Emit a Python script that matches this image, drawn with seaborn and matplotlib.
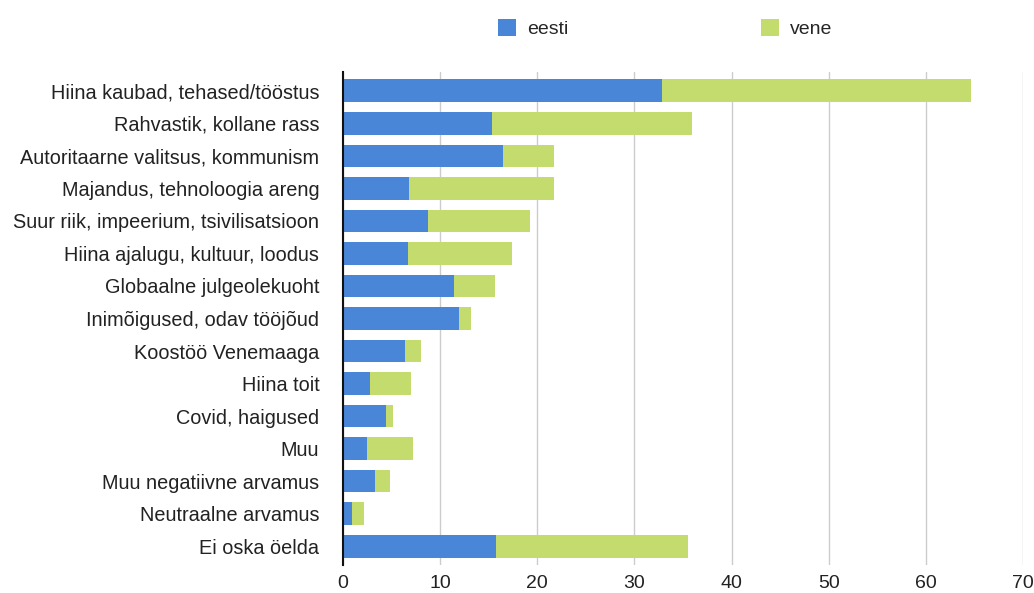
import matplotlib
matplotlib.use("Agg")
import matplotlib.pyplot as plt
from matplotlib.patches import Patch
import seaborn as sns
import pandas as pd

categories = [
    "Hiina kaubad, tehased/tööstus",
    "Rahvastik, kollane rass",
    "Autoritaarne valitsus, kommunism",
    "Majandus, tehnoloogia areng",
    "Suur riik, impeerium, tsivilisatsioon",
    "Hiina ajalugu, kultuur, loodus",
    "Globaalne julgeolekuoht",
    "Inimõigused, odav tööjõud",
    "Koostöö Venemaaga",
    "Hiina toit",
    "Covid, haigused",
    "Muu",
    "Muu negatiivne arvamus",
    "Neutraalne arvamus",
    "Ei oska öelda",
]
eesti = [32.8, 15.3, 16.5, 6.8, 8.8, 6.7, 11.4, 11.9, 6.4, 2.8, 4.4, 2.5, 3.3, 0.9, 15.8]
vene = [31.9, 20.6, 5.2, 14.9, 10.5, 10.7, 4.2, 1.3, 1.6, 4.2, 0.7, 4.7, 1.5, 1.3, 19.7]
x_ticks = [0, 10, 20, 30, 40, 50, 60, 70]

BLUE = "#4A86D8"
GREEN = "#C4DC6E"

df = pd.DataFrame({"cat": categories, "eesti": eesti, "vene": vene})
df["total"] = df["eesti"] + df["vene"]

sns.set_theme(style="white")
plt.rcParams["font.family"] = ["Liberation Sans", "DejaVu Sans"]

FS = 14.3

fig = plt.figure(figsize=(10.34, 5.93), dpi=100)
ax = fig.add_axes([0.3317, 0.0472, 0.6576, 0.8314])

sns.barplot(data=df, x="total", y="cat", color=GREEN, saturation=1, width=0.7,
            linewidth=0, ax=ax)
sns.barplot(data=df, x="eesti", y="cat", color=BLUE, saturation=1, width=0.7,
            linewidth=0, ax=ax)

ax.set_xlim(0, 70)
ax.set_ylim(len(categories) - 1 + 0.58, -0.58)
ax.set_xticks(x_ticks)
ax.set_xticklabels([str(t) for t in x_ticks], fontsize=14, color="#222222")
ax.tick_params(axis="y", labelsize=FS, labelcolor="#222222", length=0, pad=17)
ax.tick_params(axis="x", length=0, pad=7)
ax.set_xlabel("")
ax.set_ylabel("")
ax.xaxis.grid(True, color="#CCCCCC", linewidth=1)
ax.set_axisbelow(True)
for s in ["top", "right", "bottom"]:
    ax.spines[s].set_visible(False)
ax.spines["left"].set_color("#111111")
ax.spines["left"].set_linewidth(1.5)
ax.spines["left"].set_zorder(5)

handles = [Patch(facecolor=BLUE, edgecolor="none", label="eesti"),
           Patch(facecolor=GREEN, edgecolor="none", label="vene")]
fig.legend(handles=handles, loc="upper center", bbox_to_anchor=(0.643, 0.997), ncol=2,
           frameon=False, fontsize=14, handlelength=0.95, handleheight=0.95,
           handletextpad=0.55, columnspacing=9.9)

fig.savefig("out.png", dpi=100)
